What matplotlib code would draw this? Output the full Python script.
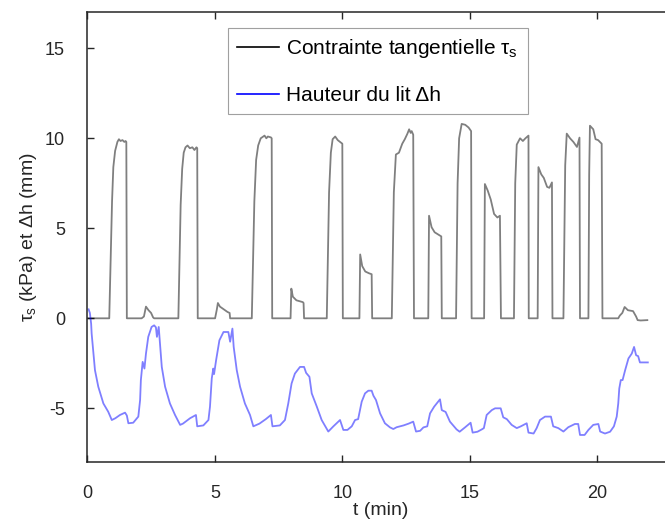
import numpy as np
import matplotlib
matplotlib.use('Agg')
import matplotlib.pyplot as plt
from matplotlib.lines import Line2D

plt.rcParams['font.family'] = ['Liberation Sans', 'DejaVu Sans']
plt.rcParams['mathtext.fontset'] = 'custom'
plt.rcParams['mathtext.rm'] = 'Liberation Sans'
plt.rcParams['mathtext.it'] = 'Liberation Sans'
plt.rcParams['axes.unicode_minus'] = False

# contrainte tangentielle tau_s (kPa) vs t (min)
tau_t = [0.0, 0.86, 0.97, 1.02, 1.09, 1.18, 1.24, 1.30, 1.38, 1.45, 1.50, 1.53, 1.55,
         2.13, 2.22, 2.30, 2.40, 2.50, 2.58, 2.62,
         3.57, 3.66, 3.72, 3.78, 3.85, 3.93, 4.02, 4.12, 4.20, 4.28, 4.31, 4.33,
         5.01, 5.08, 5.12, 5.20, 5.35, 5.50, 5.58, 5.60,
         6.45, 6.55, 6.62, 6.70, 6.80, 6.95, 7.02, 7.08, 7.20, 7.23, 7.25,
         7.97, 8.00, 8.06, 8.20, 8.45, 8.48, 8.50,
         9.39, 9.48, 9.55, 9.62, 9.72, 9.82, 9.95, 10.0, 10.02,
         10.67, 10.70, 10.78, 10.90, 11.05, 11.15, 11.17,
         11.94, 12.02, 12.10, 12.22, 12.35, 12.45, 12.55, 12.62, 12.68, 12.72, 12.78, 12.81,
         13.37, 13.40, 13.50, 13.62, 13.82, 13.88, 13.90,
         14.46, 14.52, 14.58, 14.68, 14.82, 14.95, 15.05, 15.07,
         15.56, 15.59, 15.70, 15.82, 15.95, 16.08, 16.18, 16.22,
         16.73, 16.78, 16.84, 16.97, 17.08, 17.18, 17.30, 17.31,
         17.66, 17.69, 17.80, 17.90, 18.03, 18.12, 18.22, 18.24,
         18.67, 18.74, 18.80, 18.93, 19.06, 19.20, 19.30, 19.32,
         19.65, 19.68, 19.71, 19.84, 19.93, 20.03, 20.17, 20.20,
         20.82, 20.88, 20.98, 21.07, 21.20, 21.40, 21.52, 21.58, 21.70, 21.96]
tau_v = [0.0, 0.0, 6.5, 8.4, 9.3, 9.8, 9.95, 9.85, 9.9, 9.8, 9.85, 9.8, 0.0,
         0.0, 0.1, 0.65, 0.45, 0.3, 0.05, 0.0,
         0.0, 6.3, 8.3, 9.2, 9.5, 9.6, 9.45, 9.5, 9.35, 9.5, 9.45, 0.0,
         0.0, 0.5, 0.85, 0.65, 0.5, 0.35, 0.3, 0.0,
         0.0, 6.5, 8.8, 9.6, 10.0, 10.15, 10.0, 10.1, 10.05, 10.0, 0.0,
         0.0, 1.65, 1.2, 1.0, 0.9, 0.85, 0.0,
         0.0, 7.0, 9.2, 9.95, 10.1, 9.9, 9.75, 9.7, 0.0,
         0.0, 3.55, 2.9, 2.6, 2.5, 2.45, 0.0,
         0.0, 7.0, 9.1, 9.2, 9.7, 9.95, 10.25, 10.5, 10.3, 10.4, 10.2, 0.0,
         0.0, 5.7, 5.06, 4.78, 4.6, 4.55, 0.0,
         0.0, 7.5, 10.0, 10.8, 10.75, 10.6, 10.4, 0.0,
         0.0, 7.46, 7.1, 6.6, 5.8, 5.6, 5.7, 0.0,
         0.0, 7.5, 9.65, 10.0, 9.85, 10.0, 10.15, 0.0,
         0.0, 8.4, 8.0, 7.8, 7.3, 7.25, 7.55, 0.0,
         0.0, 8.5, 10.26, 10.0, 9.8, 9.52, 10.04, 0.0,
         0.0, 8.0, 10.7, 10.5, 9.95, 9.9, 9.7, 0.0,
         0.0, 0.15, 0.3, 0.63, 0.45, 0.4, 0.1, -0.1, -0.12, -0.1]

# hauteur du lit dh (mm) vs t (min)
dh_t = [0.05, 0.10, 0.15, 0.17, 0.24, 0.30, 0.43, 0.63, 0.82, 0.96, 1.10, 1.28, 1.48, 1.55, 1.61,
        1.80, 2.00, 2.07, 2.10, 2.17, 2.24, 2.30, 2.39, 2.52, 2.62, 2.69, 2.73, 2.80, 2.85,
        2.92, 3.05, 3.24, 3.44, 3.64, 3.75, 4.03, 4.26, 4.31, 4.55, 4.75, 4.81, 4.88, 4.94,
        4.97, 5.05, 5.18, 5.34, 5.53, 5.60, 5.69, 5.74, 5.86, 5.99, 6.18, 6.38, 6.51, 6.75,
        7.00, 7.20, 7.26, 7.55, 7.75, 7.88, 8.01, 8.14, 8.34, 8.50, 8.58, 8.71, 8.80, 9.00,
        9.19, 9.45, 9.65, 9.91, 10.04, 10.20, 10.37, 10.50, 10.62, 10.76, 10.89, 11.02,
        11.15, 11.22, 11.32, 11.48, 11.67, 11.87, 12.00, 12.13, 12.40, 12.60, 12.78, 12.89,
        13.05, 13.18, 13.33, 13.44, 13.60, 13.83, 13.90, 14.05, 14.22, 14.48, 14.60, 14.81,
        15.03, 15.11, 15.30, 15.47, 15.55, 15.66, 15.86, 15.99, 16.21, 16.31, 16.45, 16.64,
        16.84, 17.00, 17.23, 17.30, 17.50, 17.62, 17.75, 17.95, 18.18, 18.27, 18.47, 18.67,
        18.86, 19.12, 19.25, 19.32, 19.50, 19.65, 19.84, 20.04, 20.11, 20.30, 20.50, 20.65,
        20.76, 20.82, 20.86, 20.92, 20.99, 21.09, 21.22, 21.35, 21.44, 21.52, 21.60, 21.67, 21.98]
dh_v = [0.5, 0.3, -0.3, -0.85, -1.96, -2.88, -3.8, -4.73, -5.19, -5.65, -5.55, -5.37, -5.24, -5.4, -5.83,
        -5.8, -5.46, -4.54, -3.43, -2.42, -2.79, -1.96, -1.03, -0.48, -0.39, -0.5, -1.03, -0.48, -1.4,
        -2.7, -3.8, -4.73, -5.37, -5.92, -5.85, -5.55, -5.37, -6.0, -5.95, -5.65, -4.91, -3.34, -2.79,
        -3.1, -2.33, -1.22, -0.76, -0.76, -1.3, -0.57, -1.59, -2.88, -3.8, -4.73, -5.37, -6.0, -5.85,
        -5.6, -5.37, -6.0, -5.95, -5.65, -4.73, -3.62, -3.07, -2.7, -2.7, -3.03, -3.25, -4.17, -4.91,
        -5.65, -6.29, -6.0, -5.65, -6.2, -6.2, -6.0, -5.65, -5.6, -4.63, -4.17, -4.02,
        -4.02, -4.3, -4.54, -5.28, -5.83, -6.06, -6.15, -6.05, -5.95, -5.85, -5.74, -6.29,
        -6.25, -6.06, -6.0, -5.28, -4.91, -4.5, -5.1, -5.2, -5.74, -6.17, -6.3, -6.06,
        -5.8, -6.35, -6.3, -6.17, -6.1, -5.37, -5.1, -5.0, -5.0, -5.5, -5.6, -5.92,
        -6.1, -6.0, -5.83, -6.35, -6.4, -6.1, -5.65, -5.46, -5.46, -6.0, -6.1, -6.29,
        -6.05, -5.87, -5.87, -6.48, -6.48, -6.2, -5.92, -5.87, -6.29, -6.4, -6.3, -6.0,
        -5.46, -4.73, -3.9, -3.43, -3.43, -2.88, -2.23, -1.96, -1.59, -2.05, -2.1, -2.45, -2.45]

xticks = [0, 5, 10, 15, 20]
yticks = [-5, 0, 5, 10, 15]

fig = plt.figure(figsize=(6.65, 5.19), dpi=100)
ax = fig.add_axes([0.1313, 0.1092, 0.882, 0.8671])

ax.plot(tau_t, tau_v, color='k', lw=1.3, alpha=0.5)
ax.plot(dh_t, dh_v, color='#0000ff', lw=1.3, alpha=0.5)

ax.set_xlim(0, 23)
ax.set_ylim(-8, 17)
ax.set_xticks(xticks)
ax.set_yticks(yticks)
ax.tick_params(direction='in', top=True, right=False, length=5, width=1,
               labelsize=13, colors='#262626')
ax.tick_params(axis='x', pad=16)
ax.tick_params(axis='y', pad=16)
ax.spines['right'].set_visible(False)
for s in ['left', 'bottom', 'top']:
    ax.spines[s].set_color('#262626')
    ax.spines[s].set_linewidth(1.1)

ax.set_xlabel('t (min)', fontsize=14, color='#262626', labelpad=0)
ax.set_ylabel(r'$\tau_s$ (kPa) et $\Delta$h (mm)', fontsize=14, color='#262626', labelpad=4)

handles = [Line2D([], [], color='k', lw=1.2), Line2D([], [], color='#0000ff', lw=1.2)]
labels = [r'Contrainte tangentielle $\tau_s$', 'Hauteur du lit Δh']
leg = ax.legend(handles, labels, loc='upper left', bbox_to_anchor=(0.24, 0.966),
                borderaxespad=0, fontsize=15, frameon=True, fancybox=False,
                framealpha=1, edgecolor='#a0a0a0', handlelength=2.0,
                handletextpad=0.35, borderpad=0.45, labelspacing=1.25)
leg.get_frame().set_linewidth(0.8)

plt.savefig('out.png', dpi=100)
